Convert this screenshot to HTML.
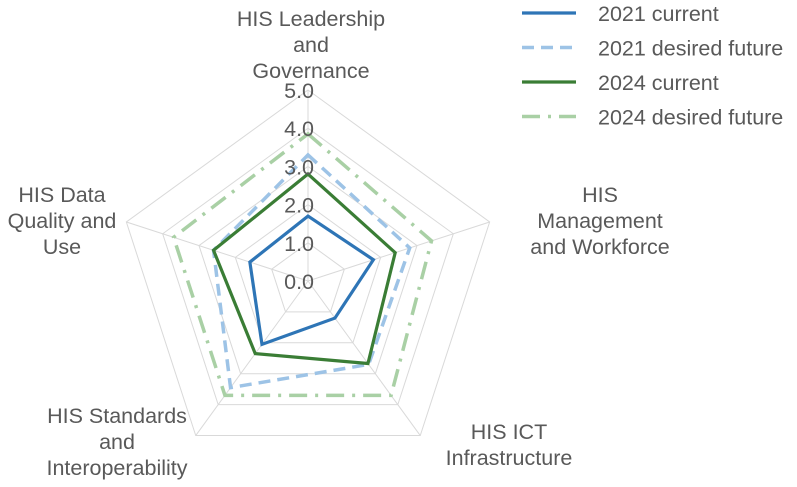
<!DOCTYPE html>
<html><head><meta charset="utf-8"><style>
body{margin:0;background:#fff;width:797px;height:482px;overflow:hidden}
text{font-family:"Liberation Sans",sans-serif;fill:#595959;font-size:21.5px}
</style></head><body>
<svg id="chart" width="797" height="482"></svg>
<script>
const categories=["HIS Leadership and Governance","HIS Management and Workforce","HIS ICT Infrastructure","HIS Standards and Interoperability","HIS Data Quality and Use"];
const ticks=[0,1,2,3,4,5];
const tickLabels=["0.0","1.0","2.0","3.0","4.0","5.0"];
const s2021cur=[1.7,1.8,1.2,2.05,1.6];
const s2021fut=[3.3,2.8,2.7,3.45,2.6];
const s2024cur=[2.8,2.4,2.67,2.35,2.6];
const s2024fut=[3.85,3.4,3.7,3.7,3.7];
const seriesNames=["2021 current","2021 desired future","2024 current","2024 desired future"];
const NS="http://www.w3.org/2000/svg",svg=document.getElementById("chart");
const cx=308,cy=281,unit=38.2;
function pt(i,v){const a=-Math.PI/2+i*2*Math.PI/5;return [cx+Math.cos(a)*v*unit,cy+Math.sin(a)*v*unit];}
function mk(t,at){const e=document.createElementNS(NS,t);for(const k in at)e.setAttribute(k,at[k]);svg.appendChild(e);return e;}
ticks.forEach((t,j)=>{if(t===0)return;const p=mk("polygon",{points:categories.map((c,i)=>pt(i,t).join(",")).join(" "),fill:"none",stroke:"#d9d9d9","stroke-width":1});

});
categories.forEach((c,i)=>{const [x,y]=pt(i,5);const l=mk("line",{x1:cx,y1:cy,x2:x,y2:y,stroke:"#d9d9d9"});

});
const styles=[{c:"#2e75b6",d:"",w:3.2},{c:"#9dc3e6",d:"12,7",w:3.5},{c:"#3a7d35",d:"",w:3.2},{c:"#a9d0a5",d:"18,8,3,8",w:3.5}];
[s2021cur,s2021fut,s2024cur,s2024fut].forEach((s,k)=>{const p=mk("polygon",{points:s.map((v,i)=>pt(i,v).join(",")).join(" "),fill:"none",stroke:styles[k].c,"stroke-width":styles[k].w,"stroke-dasharray":styles[k].d,"stroke-linejoin":"miter"});

});
ticks.forEach((t,j)=>{const e=mk("text",{x:cx+6,y:cy-t*unit+8,"text-anchor":"end"});e.textContent=tickLabels[j];

});
const lab=[[[311,26,"HIS Leadership"],[311,52,"and"],[311,78,"Governance"]],[[600,202,"HIS"],[600,228,"Management"],[600,254,"and Workforce"]],[[509,439,"HIS ICT"],[509,465,"Infrastructure"]],[[117,423,"HIS Standards"],[117,449,"and"],[117,475,"Interoperability"]],[[62,202,"HIS Data"],[62,228,"Quality and"],[62,254,"Use"]]];
lab.forEach((ls,i)=>ls.forEach(([x,y,t])=>{const e=mk("text",{x,y,"text-anchor":"middle"});e.textContent=t;

}));
seriesNames.forEach((n,k)=>{const y=13+k*34.5;const l=mk("line",{x1:522,y1:y,x2:576,y2:y,stroke:styles[k].c,"stroke-width":styles[k].w,"stroke-dasharray":styles[k].d});


const e=mk("text",{x:598,y:y+8});e.textContent=n;

});
</script>
</body></html>
